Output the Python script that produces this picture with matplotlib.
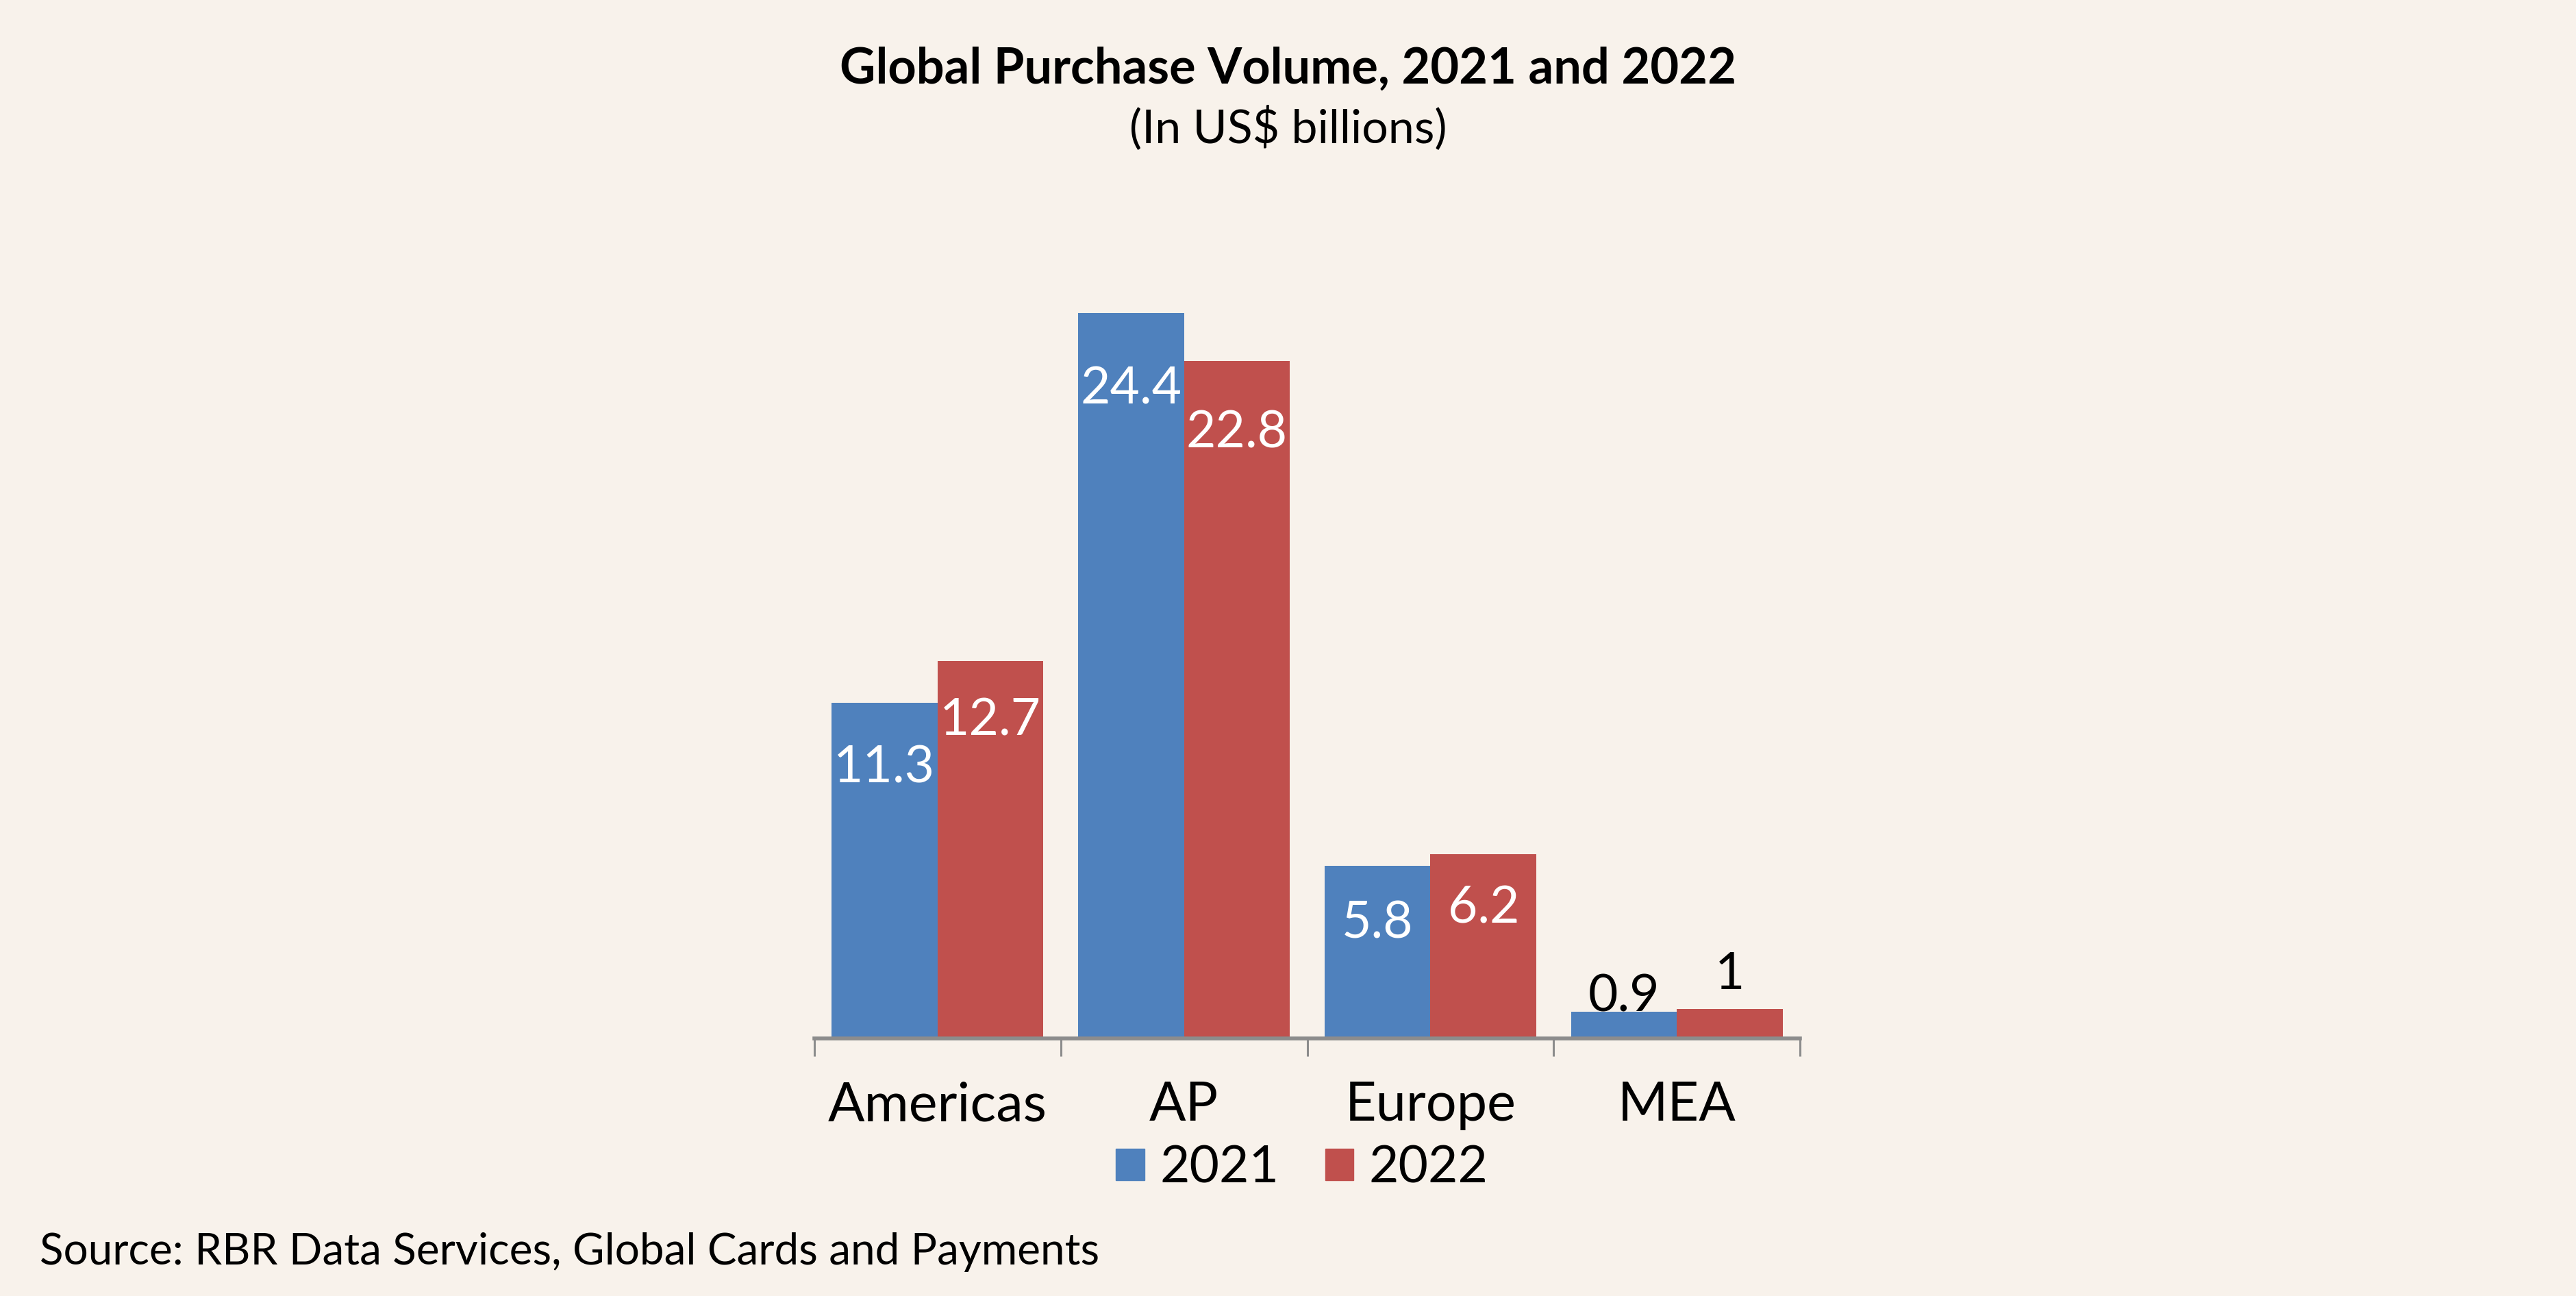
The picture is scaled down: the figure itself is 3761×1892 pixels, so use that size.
import matplotlib
matplotlib.use('Agg')
import matplotlib.pyplot as plt
from matplotlib.patches import Patch
import numpy as np

# Chart data
regions = ['Americas', 'AP', 'Europe', 'MEA']
years = ['2021', '2022']
vol_2021 = [11.3, 24.4, 5.8, 0.9]
vol_2022 = [12.7, 22.8, 6.2, 1.0]

bg_color = '#f8f2eb'
blue = '#4f81bd'
red = '#c0504d'
axis_gray = '#8c8c8c'

plt.rcParams['font.family'] = ['Lato', 'DejaVu Sans']

fig = plt.figure(figsize=(37.61, 18.92), dpi=100, facecolor=bg_color)
ax = fig.add_axes([0.3161, 0.1987, 0.3827, 0.6423])
ax.set_facecolor(bg_color)

x = np.arange(len(regions))
width = 0.43
bars1 = ax.bar(x - width / 2, vol_2021, width, color=blue, zorder=2)
bars2 = ax.bar(x + width / 2, vol_2022, width, color=red, zorder=2)

ax.set_xlim(-0.5, len(regions) - 0.5)
ax.set_ylim(0, 28)

# value labels: white inside tall bars, black above the small MEA ones
offsets_2021 = [-69, -80, -60, 16]
offsets_2022 = [-63, -76, -57, 36]
for bars, offs in ((bars1, offsets_2021), (bars2, offsets_2022)):
    for b, off in zip(bars, offs):
        h = b.get_height()
        txt = f'{h:g}'
        col = 'white' if off < 0 else 'black'
        ax.annotate(txt, (b.get_x() + b.get_width() / 2, h),
                    xytext=(0, off), textcoords='offset points',
                    ha='center', va='center', fontsize=54, color=col, zorder=3)

# axes styling: only a gray baseline with boundary tick marks
for s in ['top', 'right', 'left']:
    ax.spines[s].set_visible(False)
ax.spines['bottom'].set_color(axis_gray)
ax.spines['bottom'].set_linewidth(4)
ax.set_yticks([])
ax.set_xticks(np.arange(-0.5, len(regions)), labels=[])
ax.tick_params(axis='x', direction='out', length=19, width=2.2, color=axis_gray)

for xi, name in zip(x, regions):
    ax.text(xi, -0.0807, name, transform=ax.get_xaxis_transform(),
            ha='center', va='center', fontsize=57)

handles = [Patch(color=blue, label=years[0]), Patch(color=red, label=years[1])]
fig.legend(handles=handles, loc='center', bbox_to_anchor=(0.5054, 0.0988),
           ncol=2, frameon=False, fontsize=54, handlelength=0.55,
           handleheight=0.55, handletextpad=0.3, columnspacing=0.9)

fig.text(0.5, 0.9467, 'Global Purchase Volume, 2021 and 2022', ha='center',
         va='center', fontsize=52, fontweight='bold')
fig.text(0.5, 0.901, '(In US$ billions)', ha='center', va='center', fontsize=49)
fig.text(0.0154, 0.0338, 'Source: RBR Data Services, Global Cards and Payments',
         ha='left', va='center', fontsize=46)

fig.savefig('out.png', dpi=100, facecolor=bg_color)
